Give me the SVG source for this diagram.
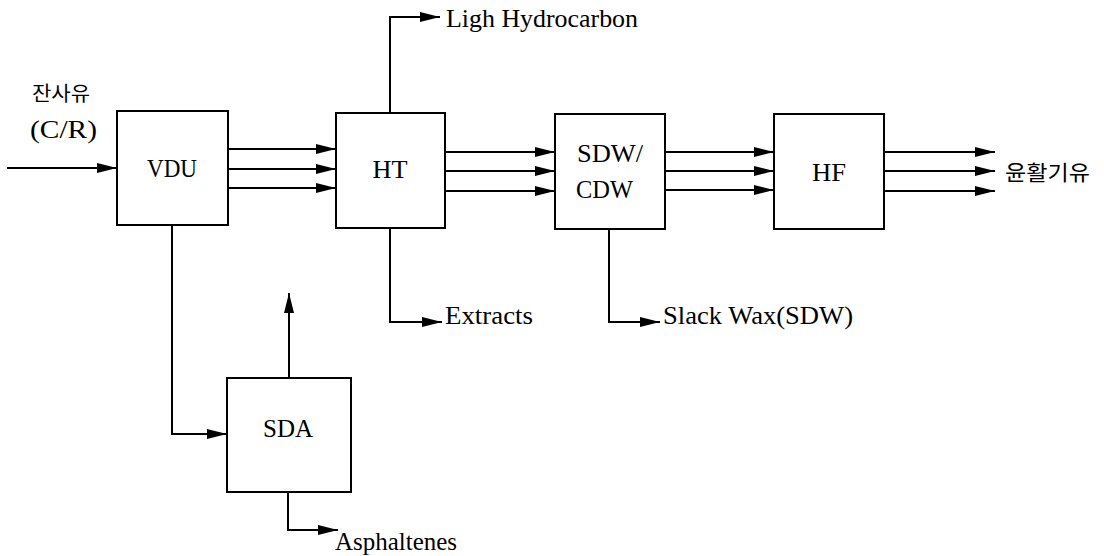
<svg xmlns="http://www.w3.org/2000/svg" width="1104" height="556" viewBox="0 0 1104 556">
<defs>
<marker id="ah" markerUnits="userSpaceOnUse" markerWidth="22" markerHeight="12" refX="20" refY="5" orient="auto" viewBox="0 0 22 12">
<path d="M0,0 L20,5 L0,10 Z" fill="#000"/>
</marker>
</defs>
<style>
.box{fill:#fff;stroke:#000;stroke-width:2}
.ar{fill:none;stroke:#000;stroke-width:2;marker-end:url(#ah)}
.t{font-family:'Liberation Serif','Times New Roman',serif;font-size:26px;fill:#000}
.c{text-anchor:middle}
.kr{font-family:'Noto Sans CJK KR',sans-serif;font-size:20px;fill:#000}
</style>
<rect width="1104" height="556" fill="#fff"/>
<g id="connectors">
<path class="ar" d="M7,168 L117,168"/>
<path class="ar" d="M228,149 L336,149"/>
<path class="ar" d="M228,169 L336,169"/>
<path class="ar" d="M228,188 L336,188"/>
<path class="ar" d="M445,152 L555,152"/>
<path class="ar" d="M445,171 L555,171"/>
<path class="ar" d="M445,191 L555,191"/>
<path class="ar" d="M665,152 L774,152"/>
<path class="ar" d="M665,171 L774,171"/>
<path class="ar" d="M665,190 L774,190"/>
<path class="ar" d="M884,152 L995,152"/>
<path class="ar" d="M884,171 L995,171"/>
<path class="ar" d="M884,191 L995,191"/>
<path class="ar" d="M390,113 L390,17 L440,17"/>
<path class="ar" d="M390,228 L390,322 L442,322"/>
<path class="ar" d="M609,229 L609,322 L660,322"/>
<path class="ar" d="M172,225 L172,434 L227,434"/>
<path class="ar" d="M289,378 L289,293"/>
<path class="ar" d="M288,492 L288,530 L338,530"/>
</g>
<g id="VDU">
<rect class="box" x="117" y="111" width="111" height="114"/>
<text class="t c" x="172" y="177" textLength="50" lengthAdjust="spacingAndGlyphs">VDU</text>
</g>
<g id="HT">
<rect class="box" x="336" y="113" width="109" height="115"/>
<text class="t c" x="390" y="178" textLength="35" lengthAdjust="spacingAndGlyphs">HT</text>
</g>
<g id="SDW_CDW">
<rect class="box" x="555" y="114" width="110" height="115"/>
<text class="t" x="577" y="162" textLength="66" lengthAdjust="spacingAndGlyphs">SDW/</text>
<text class="t" x="576" y="198" textLength="57" lengthAdjust="spacingAndGlyphs">CDW</text>
</g>
<g id="HF">
<rect class="box" x="774" y="114" width="110" height="115"/>
<text class="t c" x="829" y="181" textLength="34" lengthAdjust="spacingAndGlyphs">HF</text>
</g>
<g id="SDA">
<rect class="box" x="227" y="378" width="124" height="114"/>
<text class="t c" x="288" y="437" textLength="50" lengthAdjust="spacingAndGlyphs">SDA</text>
</g>
<g id="labels">
<text class="kr" x="32" y="101" textLength="58" lengthAdjust="spacingAndGlyphs">잔사유</text>
<text class="t" x="30" y="138" textLength="67" lengthAdjust="spacingAndGlyphs">(C/R)</text>
<text class="kr" x="1005" y="180" style="font-size:21px" textLength="85" lengthAdjust="spacingAndGlyphs">윤활기유</text>
<text class="t" x="446" y="27" textLength="192" lengthAdjust="spacingAndGlyphs">Ligh Hydrocarbon</text>
<text class="t" x="445" y="324" textLength="88" lengthAdjust="spacingAndGlyphs">Extracts</text>
<text class="t" x="663" y="324" textLength="190" lengthAdjust="spacingAndGlyphs">Slack Wax(SDW)</text>
<text class="t" x="335" y="550" textLength="122" lengthAdjust="spacingAndGlyphs">Asphaltenes</text>
</g>
</svg>
